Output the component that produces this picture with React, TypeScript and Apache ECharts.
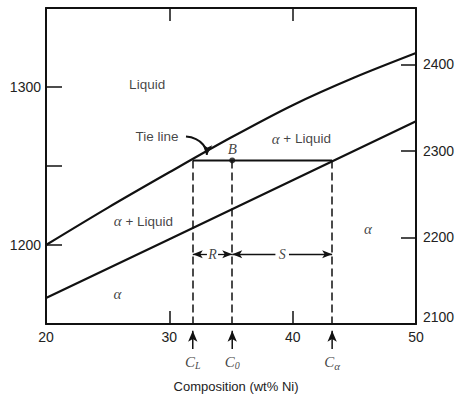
import React, { useEffect, useRef } from "react";
import * as echarts from "echarts";

// Axis ticks / labels
const compositionTicks = [20, 30, 40, 50];
const celsiusLabels = [1200, 1300];
const fahrenheitTicks = [2100, 2200, 2300, 2400];

// Liquidus (upper curve) and solidus (lower curve)
const liquidusX = [20, 25, 30, 35, 40, 45, 50];
const liquidusT = [1200, 1223.5, 1246, 1268, 1288.5, 1306, 1321.5];
const solidusX = [20, 30, 40, 50];
const solidusT = [1166.4, 1203.7, 1241, 1278.3];

// Tie line at point B
const tieT = 1253.5;
const cL = 31.9;
const c0 = 35.1;
const cAlpha = 43.2;

// Text annotations (texts) and their anchors in data units (wt% Ni, °C)
const regionTexts = ["Liquid", "Tie line", "{g|α} + Liquid", "{g|α} + Liquid", "{g|α}", "{g|α}"];
const regionAnchorX = [28.2, 29.0, 40.7, 27.9, 46.1, 25.8];
const regionAnchorT = [1301.4, 1268.6, 1267.4, 1215, 1210, 1169];
const compositionMarks = ["{c|C}{s|L}", "{c|C}{s|0}", "{c|C}{g2|α}"];
const leverT = 1194.2; // level of the R / S arrows
const leverLabels = ["R", "S"];
// curved pointer from the "Tie line" text to the tie line
const pointerX = [31.35, 32.16, 32.73, 32.97, 33.05];
const pointerT = [1268.6, 1267.0, 1263.6, 1259.6, 1257.0];
const belowAxisArrowT = [1134.2, 1145.8];
const belowAxisLabelT = 1126;

export default function App() {
  const ref = useRef<HTMLDivElement>(null);
  useEffect(() => {
    const chart = echarts.init(ref.current!, null, { renderer: "svg" });
    const black = "#111";
    const sans = "Liberation Sans";
    const serif = "Liberation Serif";
    const comps = [cL, c0, cAlpha];

    const greek = { fontFamily: serif, fontStyle: "italic", fontSize: 15, color: black };

    const arrowSeries = comps.map((c, i) => ({
      name: "below axis arrow " + i,
      type: "line",
      silent: true,
      clip: false,
      showSymbol: true,
      lineStyle: { color: black, width: 1.5 },
      itemStyle: { color: black },
      data: [
        { value: [c, belowAxisArrowT[0]], symbol: "none" },
        { value: [c, belowAxisArrowT[1]], symbol: "arrow", symbolSize: [7, 11] },
      ],
    }));

    const option: any = {
      animation: false,
      backgroundColor: "#fff",
      grid: { left: 46, right: 50, top: 8, bottom: 73, show: false },
      xAxis: [
        {
          type: "value",
          position: "bottom",
          min: 20,
          max: 50,
          interval: 10,
          splitLine: { show: false },
          axisLine: { lineStyle: { color: black, width: 2 } },
          axisTick: { inside: true, length: 13, lineStyle: { color: black, width: 1.5 } },
          axisLabel: {
            margin: 6,
            color: "#222",
            fontFamily: sans,
            fontSize: 14,
            formatter: (v: number) => (compositionTicks.includes(v) ? String(v) : ""),
          },
          name: "Composition (wt% Ni)",
          nameLocation: "middle",
          nameGap: 56,
          nameTextStyle: { color: "#222", fontFamily: sans, fontSize: 13, padding: [0, 0, 0, 10] },
        },
        {
          type: "value",
          position: "top",
          min: 20,
          max: 50,
          interval: 10,
          splitLine: { show: false },
          axisLine: { lineStyle: { color: black, width: 2 } },
          axisTick: { inside: true, length: 13, lineStyle: { color: black, width: 1.5 } },
          axisLabel: { show: false },
        },
      ],
      yAxis: [
        {
          type: "value",
          position: "left",
          min: 1150,
          max: 1350,
          interval: 50,
          splitLine: { show: false },
          axisLine: { lineStyle: { color: black, width: 2 } },
          axisTick: { inside: true, length: 16, lineStyle: { color: black, width: 1.5 } },
          axisLabel: {
            margin: 5,
            color: "#222",
            fontFamily: sans,
            fontSize: 14,
            formatter: (v: number) => (celsiusLabels.includes(v) ? String(v) : ""),
          },
        },
        {
          type: "value",
          position: "right",
          min: 2100,
          max: 2465,
          interval: 100,
          splitLine: { show: false },
          axisLine: { lineStyle: { color: black, width: 2 } },
          axisTick: { inside: true, length: 15, lineStyle: { color: black, width: 1.5 } },
          axisLabel: {
            margin: 7,
            color: "#222",
            fontFamily: sans,
            fontSize: 14,
            formatter: (v: number) =>
              fahrenheitTicks.includes(v) ? (v === fahrenheitTicks[0] ? "{lo|" + v + "}" : String(v)) : "",
            rich: { lo: { fontFamily: sans, fontSize: 14, color: "#222", padding: [0, 0, 14, 0] } },
          },
        },
      ],
      series: [
        {
          name: "liquidus",
          type: "line",
          smooth: 0.3,
          showSymbol: false,
          silent: true,
          lineStyle: { color: black, width: 2.2 },
          data: liquidusX.map((x, i) => [x, liquidusT[i]]),
          z: 3,
        },
        {
          name: "solidus",
          type: "line",
          showSymbol: false,
          silent: true,
          lineStyle: { color: black, width: 2.2 },
          data: solidusX.map((x, i) => [x, solidusT[i]]),
          z: 3,
        },
        {
          name: "tie line",
          type: "line",
          showSymbol: false,
          silent: true,
          lineStyle: { color: black, width: 2 },
          data: [
            [cL, tieT],
            [cAlpha, tieT],
          ],
          z: 3,
        },
        {
          name: "dashed",
          type: "line",
          data: [],
          silent: true,
          markLine: {
            silent: true,
            symbol: ["none", "none"],
            label: { show: false },
            lineStyle: { color: black, width: 1.5, type: [8, 4] },
            data: comps.map((c) => [{ coord: [c, tieT] }, { coord: [c, 1150] }]),
          },
        },
        ...arrowSeries,
        {
          name: "lever arrows",
          type: "line",
          data: [],
          silent: true,
          markLine: {
            silent: true,
            symbol: ["none", "arrow"],
            symbolSize: [6, 10],
            label: { show: false },
            lineStyle: { color: black, width: 1.3, type: "solid" },
            data: [
              [{ coord: [(cL + c0) / 2 - 0.45, leverT] }, { coord: [cL, leverT] }],
              [{ coord: [(cL + c0) / 2 + 0.45, leverT] }, { coord: [c0, leverT] }],
              [{ coord: [(c0 + cAlpha) / 2 - 0.55, leverT] }, { coord: [c0, leverT] }],
              [{ coord: [(c0 + cAlpha) / 2 + 0.55, leverT] }, { coord: [cAlpha, leverT] }],
            ],
          },
        },
        {
          name: "tie pointer",
          type: "line",
          smooth: 0.5,
          silent: true,
          showSymbol: true,
          lineStyle: { color: black, width: 2 },
          itemStyle: { color: black },
          data: pointerX.map((x, i) =>
            i === pointerX.length - 1
              ? { value: [x, pointerT[i]], symbol: "arrow", symbolSize: [7, 10], symbolRotate: 176 }
              : { value: [x, pointerT[i]], symbol: "none" }
          ),
          z: 4,
        },
        {
          name: "B",
          type: "scatter",
          symbol: "circle",
          symbolSize: 6,
          itemStyle: { color: black },
          silent: true,
          data: [[c0, tieT]],
          label: {
            show: true,
            position: "top",
            distance: 1,
            formatter: "B",
            fontFamily: serif,
            fontStyle: "italic",
            fontSize: 15,
            color: black,
          },
          z: 5,
        },
        {
          name: "region labels",
          type: "scatter",
          symbolSize: 0,
          silent: true,
          data: regionTexts.map((t, i) => ({ value: [regionAnchorX[i], regionAnchorT[i]], name: t })),
          label: {
            show: true,
            position: "inside",
            formatter: (p: any) => p.name,
            fontFamily: sans,
            fontSize: 13.5,
            color: black,
            rich: { g: greek },
          },
        },
        {
          name: "lever labels",
          type: "scatter",
          symbolSize: 0,
          silent: true,
          data: [
            { value: [(cL + c0) / 2, leverT], name: leverLabels[0] },
            { value: [(c0 + cAlpha) / 2, leverT], name: leverLabels[1] },
          ],
          label: {
            show: true,
            position: "inside",
            formatter: (p: any) => p.name,
            fontFamily: serif,
            fontStyle: "italic",
            fontSize: 14,
            color: black,
          },
        },
        {
          name: "composition labels",
          type: "scatter",
          symbolSize: 0,
          silent: true,
          clip: false,
          data: comps.map((c, i) => ({ value: [c, belowAxisLabelT], name: compositionMarks[i] })),
          label: {
            show: true,
            position: "inside",
            formatter: (p: any) => p.name,
            color: black,
            rich: {
              c: { fontFamily: serif, fontStyle: "italic", fontSize: 15, color: black, lineHeight: 18 },
              s: {
                fontFamily: serif,
                fontStyle: "italic",
                fontSize: 10,
                color: black,
                lineHeight: 18,
                padding: [8, 0, 0, 0],
              },
              g2: {
                fontFamily: serif,
                fontStyle: "italic",
                fontSize: 11,
                color: black,
                lineHeight: 18,
                padding: [8, 0, 0, 0],
              },
            },
          },
        },
      ],
    };
    chart.setOption(option);
    return () => chart.dispose();
  }, []);
  return (
    <div
      ref={ref}
      style={{ position: "fixed", left: 0, top: 0, width: 466, height: 398, background: "#fff" }}
    />
  );
}
